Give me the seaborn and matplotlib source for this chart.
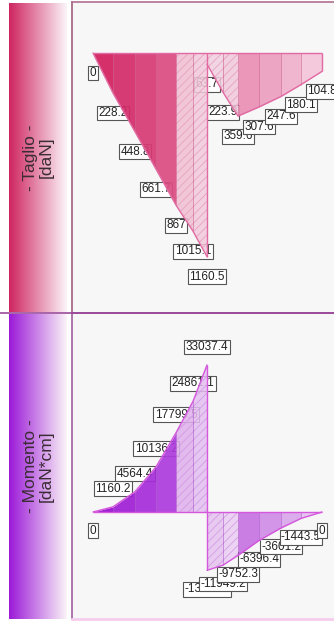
import matplotlib
matplotlib.use("Agg")
import matplotlib.pyplot as plt
import numpy as np
import seaborn as sns

# beam stations (cm) and diagram values
stations = [0, 20, 42, 63, 83, 100, 114, 130, 145, 166, 188, 208, 229]
shear_left = [0, 228.2, 448.8, 661.7, 867, 1015.1, 1160.5]
shear_right = [63.7, 223.9, 359.6, 307.6, 247.6, 180.1, 104.8]
moment_left = [0, 1160.2, 4564.4, 10136.2, 17799.5, 24861.1, 33037.4]
moment_right = [-13110.6, -11949.2, -9752.3, -6396.4, -3601.2, -1443.5, 0]

panel_titles = ["- Taglio -\n[daN]", "- Momento -\n[daN*cm]"]

shear_colors = ["#d21f5e", "#d42b69", "#d73a74", "#db4c81", "#f0bfd2", "#f2cadb",
                "#f2cfe0", "#f1c8da", "#e98fb5", "#ec9fc0", "#f0b1cc", "#f4c5da"]
moment_colors = ["#9a0fcf", "#a01ed6", "#a62cd9", "#ad3bdd", "#dfb0ec", "#e4bff0",
                 "#e6c2f1", "#ebcdf3", "#c674e3", "#cf8de7", "#daa7ed", "#e6c3f2"]
hatched = [False, False, False, False, True, True, True, True, False, False, False, False]

W, H = 334, 622
sns.set_style("white")
plt.rcParams["font.family"] = ["Liberation Sans", "DejaVu Sans"]
plt.rcParams["hatch.linewidth"] = 0.6

fig = plt.figure(figsize=(W / 100, H / 100), dpi=100)
fig.patch.set_facecolor("white")


def px_axes(x0, y0, x1, y1):
    return fig.add_axes([x0 / W, 1 - y1 / H, (x1 - x0) / W, (y1 - y0) / H])


def side_strip(y0, y1, c0, title):
    ax = px_axes(9, y0, 67, y1)
    cmap = sns.blend_palette([c0, "#fbf3f8"], as_cmap=True)
    ax.imshow(np.linspace(0, 1, 100)[None, :], aspect="auto", cmap=cmap,
              extent=[0, 1, 0, 1])
    ax.text(0.5, 0.5, title, rotation=90, ha="center", va="center",
            multialignment="center", fontsize=12.5, color="#3a2c34",
            linespacing=1.05, transform=ax.transAxes)
    ax.set_axis_off()


def diagram(ax, left, right, colors, edge, divider, hatch_col, label_off):
    vals = left + right
    xs_left = stations[:7]
    xs_right = stations[6:]
    segs = list(zip(xs_left[:-1], xs_left[1:], left[:-1], left[1:])) + \
        list(zip(xs_right[:-1], xs_right[1:], right[:-1], right[1:]))
    for i, (xa, xb, va, vb) in enumerate(segs):
        if hatched[i]:
            ax.fill_between([xa, xb], 0, [va, vb], facecolor=colors[i],
                            hatch="////", edgecolor=hatch_col, linewidth=0,
                            alpha=0.85, zorder=3)
        else:
            ax.fill_between([xa, xb], 0, [va, vb], facecolor=colors[i],
                            linewidth=0, alpha=0.92, zorder=3)
    for x, v in zip(xs_left[1:-1] + xs_right[1:-1], left[1:-1] + right[1:-1]):
        ax.vlines(x, 0, v, color=divider, lw=0.6, alpha=0.5, zorder=4)
    sns.lineplot(x=xs_left, y=left, estimator=None, sort=False, color=edge,
                 lw=1, ax=ax, zorder=5)
    sns.lineplot(x=xs_right, y=right, estimator=None, sort=False, color=edge,
                 lw=1, ax=ax, zorder=5)
    ax.hlines(0, stations[0], stations[-1], color=edge, lw=1, zorder=5)
    ax.vlines(stations[6], min(left[-1], right[0], 0), max(left[-1], right[0], 0),
              color=edge, lw=1, zorder=5)
    ax.vlines(stations[-1], 0, right[-1], color=edge, lw=1, zorder=5)

    xs = xs_left + xs_right
    for x, v in zip(xs, vals):
        txt = f"{v:g}" if v != int(v) else f"{int(v)}"
        dy = label_off(v)
        ax.annotate(txt, (x, v), xytext=(0, dy), textcoords="offset points",
                    ha="center", va="center", fontsize=8.5, color="#222222",
                    zorder=2,
                    bbox=dict(boxstyle="square,pad=0.12", fc="white",
                              ec="#555555", lw=0.8))


# top panel: shear
ax1 = px_axes(72, 2, W + 1, 313)
ax1.set_facecolor("#f7f7f7")
diagram(ax1, shear_left, shear_right, shear_colors, "#e16aa3", "#c03a72",
        "#e59bbb", lambda v: -14.4)
ax1.set_xlim(-21, 242)
ax1.set_ylim(1481.5, -290.6)

# bottom panel: moment
ax2 = px_axes(72, 313, W + 1, 619)
ax2.set_facecolor("#f7f7f7")
diagram(ax2, moment_left, moment_right, moment_colors, "#d457dc", "#9a30c0",
        "#cf95e3", lambda v: 13 if v > 0 else -13.5)
ax2.set_xlim(-21, 242)
ax2.set_ylim(-24045, 44719)

for ax, col in [(ax1, "#a0607c"), (ax2, "#a05ea0")]:
    ax.set_xticks([])
    ax.set_yticks([])
    for s in ax.spines.values():
        s.set_visible(False)
    ax.spines["left"].set_visible(True)
    ax.spines["left"].set_color(col)
    ax.spines["left"].set_linewidth(1.2)

ax1.spines["top"].set_visible(True)
ax1.spines["top"].set_color("#b07090")
ax1.spines["top"].set_linewidth(1.2)
ax2.spines["top"].set_visible(True)
ax2.spines["top"].set_color("#9a4a9a")
ax2.spines["top"].set_linewidth(1.2)
ax2.spines["bottom"].set_visible(True)
ax2.spines["bottom"].set_color("#f5cdee")
ax2.spines["bottom"].set_linewidth(2)

side_strip(3, 312, "#cf2660", panel_titles[0])
side_strip(314, 619, "#9c1ad8", panel_titles[1])
# horizontal divider across the full width
fig.add_artist(plt.Line2D([0, 1], [1 - 313 / H, 1 - 313 / H], color="#9a4a9a",
                          lw=1.2, transform=fig.transFigure))

fig.savefig("out.png", dpi=100)
